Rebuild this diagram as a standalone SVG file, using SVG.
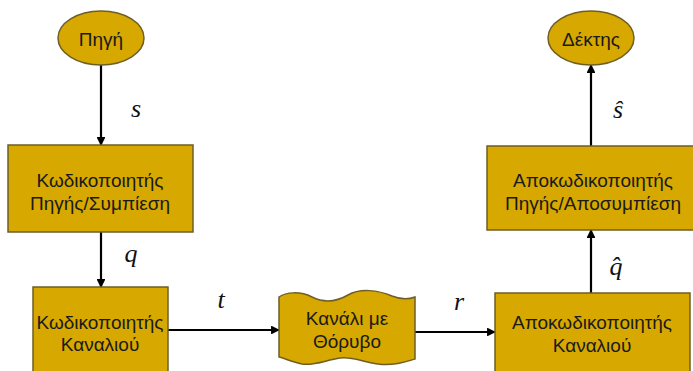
<svg xmlns="http://www.w3.org/2000/svg" width="693" height="371" viewBox="0 0 693 371">
<defs>
<style>
.shape{fill:#D6A800;stroke:#6e5e26;stroke-width:1.5}
.lbl{font-family:"Liberation Sans",Arial,sans-serif;font-size:19px;fill:#1a1a1a;text-anchor:middle}
.math{font-family:"Liberation Serif","Times New Roman",serif;font-style:italic;font-size:26px;fill:#111;text-anchor:middle}
.conn{stroke:#000;stroke-width:2.2;fill:none;marker-end:url(#ah)}
</style>
<marker id="ah" viewBox="0 0 10 10" refX="9" refY="5" markerWidth="4" markerHeight="4" orient="auto" markerUnits="strokeWidth">
<path d="M0,0 L10,5 L0,10 Z" fill="#000"/>
</marker>
</defs>
<rect width="693" height="371" fill="#fff"/>
<g id="connectors">
<line class="conn" x1="101" y1="65" x2="101" y2="145"/>
<line class="conn" x1="101" y1="232" x2="101" y2="287"/>
<line class="conn" x1="168" y1="330" x2="279" y2="330"/>
<line class="conn" x1="415" y1="332" x2="495" y2="332"/>
<line class="conn" x1="591" y1="293" x2="591" y2="230"/>
<line class="conn" x1="591" y1="146" x2="591" y2="65"/>
<text class="math" x="136" y="117">s</text>
<text class="math" x="131" y="262">q</text>
<text class="math" x="221" y="308">t</text>
<text class="math" x="459" y="310">r</text>
<text class="math" x="616" y="275">q̂</text>
<text class="math" x="618" y="118">ŝ</text>
</g>
<g id="source">
<ellipse class="shape" cx="101" cy="38" rx="43" ry="27"/>
<text class="lbl" x="101" y="46">Πηγή</text>
</g>
<g id="source-encoder">
<rect class="shape" x="8" y="145" width="185" height="87"/>
<text class="lbl" x="100" y="187">Κωδικοποιητής</text>
<text class="lbl" x="100" y="210">Πηγής/Συμπίεση</text>
</g>
<g id="channel-encoder">
<rect class="shape" x="33" y="287" width="135" height="100"/>
<text class="lbl" x="100" y="329">Κωδικοποιητής</text>
<text class="lbl" x="100" y="351">Καναλιού</text>
</g>
<g id="noisy-channel">
<path class="shape" d="M279,297 C286,292 300,291 312,297 C324,303 336,302 348,295 C360,288 378,290 392,296 C402,300 410,299 415,297 L415,359 C405,362 392,366 378,364 C362,362 352,356 340,358 C326,360 314,366 302,364 C292,362 284,358 279,357 Z"/>
<text class="lbl" x="347" y="325">Κανάλι με</text>
<text class="lbl" x="347" y="348">Θόρυβο</text>
</g>
<g id="channel-decoder">
<rect class="shape" x="495" y="293" width="195" height="100"/>
<text class="lbl" x="592" y="329">Αποκωδικοποιητής</text>
<text class="lbl" x="592" y="352">Καναλιού</text>
</g>
<g id="source-decoder">
<rect class="shape" x="487" y="146" width="215" height="84"/>
<text class="lbl" x="593" y="187">Αποκωδικοποιητής</text>
<text class="lbl" x="593" y="210">Πηγής/Αποσυμπίεση</text>
</g>
<g id="receiver">
<ellipse class="shape" cx="591" cy="38" rx="43" ry="27"/>
<text class="lbl" x="591" y="46">Δέκτης</text>
</g>
</svg>
